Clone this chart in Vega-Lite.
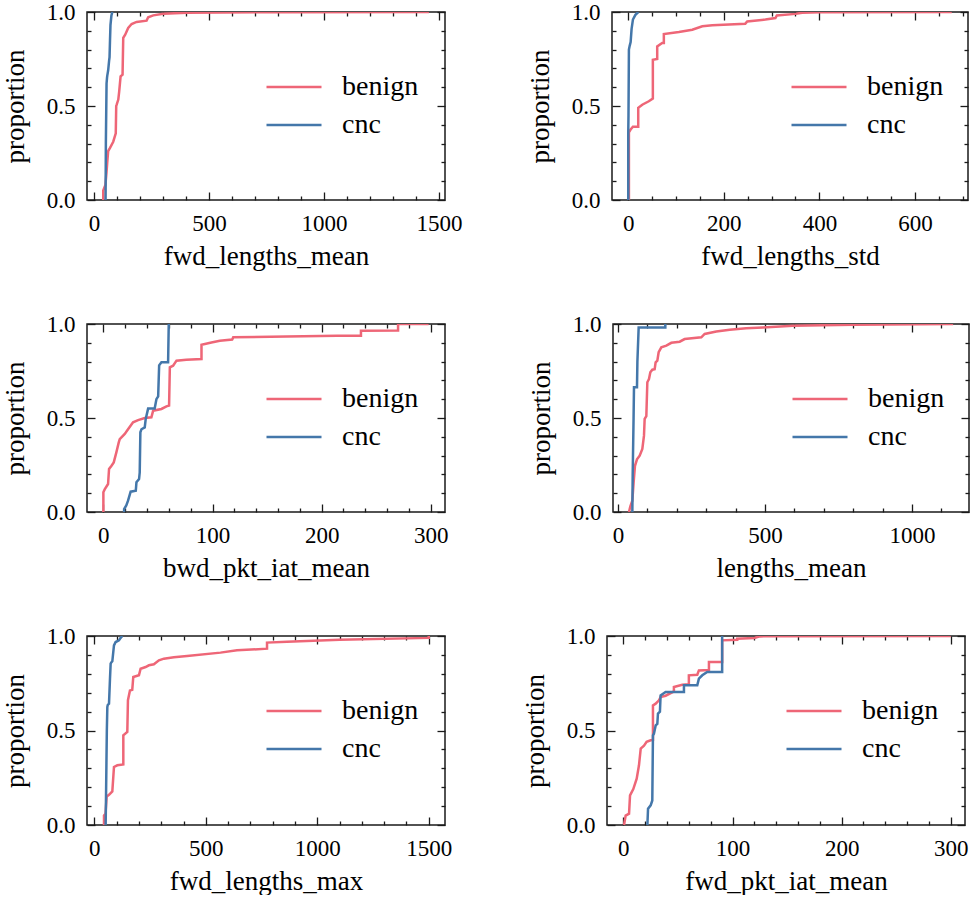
{
"$schema": "https://vega.github.io/schema/vega-lite/v6.json",
"background": "white",
"padding": {"left": 0, "top": 0, "right": 0, "bottom": 0},
"datasets": {"d": [
{"p":"A","c":"benign","i":0,"x":40.6,"y":0},{"p":"A","c":"benign","i":1,"x":40.6,"y":0.05},{"p":"A","c":"benign","i":2,"x":50,"y":0.08},{"p":"A","c":"benign","i":3,"x":55,"y":0.15},{"p":"A","c":"benign","i":4,"x":58,"y":0.2},{"p":"A","c":"benign","i":5,"x":62,"y":0.26},{"p":"A","c":"benign","i":6,"x":70,"y":0.277},{"p":"A","c":"benign","i":7,"x":84,"y":0.31},{"p":"A","c":"benign","i":8,"x":95,"y":0.355},{"p":"A","c":"benign","i":9,"x":97,"y":0.5},{"p":"A","c":"benign","i":10,"x":99,"y":0.507},{"p":"A","c":"benign","i":11,"x":106,"y":0.534},{"p":"A","c":"benign","i":12,"x":110,"y":0.578},{"p":"A","c":"benign","i":13,"x":116,"y":0.658},{"p":"A","c":"benign","i":14,"x":124.6,"y":0.667},{"p":"A","c":"benign","i":15,"x":127.5,"y":0.862},{"p":"A","c":"benign","i":16,"x":136,"y":0.879},{"p":"A","c":"benign","i":17,"x":149,"y":0.915},{"p":"A","c":"benign","i":18,"x":164,"y":0.936},{"p":"A","c":"benign","i":19,"x":185.5,"y":0.947},{"p":"A","c":"benign","i":20,"x":229,"y":0.954},{"p":"A","c":"benign","i":21,"x":236,"y":0.972},{"p":"A","c":"benign","i":22,"x":258,"y":0.982},{"p":"A","c":"benign","i":23,"x":301,"y":0.991},{"p":"A","c":"benign","i":24,"x":403,"y":0.996},{"p":"A","c":"benign","i":25,"x":800,"y":0.999},{"p":"A","c":"benign","i":26,"x":1456,"y":1.0},
{"p":"A","c":"cnc","i":0,"x":50.7,"y":0},{"p":"A","c":"cnc","i":1,"x":52,"y":0.3},{"p":"A","c":"cnc","i":2,"x":55,"y":0.62},{"p":"A","c":"cnc","i":3,"x":57,"y":0.65},{"p":"A","c":"cnc","i":4,"x":58,"y":0.66},{"p":"A","c":"cnc","i":5,"x":62,"y":0.69},{"p":"A","c":"cnc","i":6,"x":66,"y":0.74},{"p":"A","c":"cnc","i":7,"x":68,"y":0.76},{"p":"A","c":"cnc","i":8,"x":70,"y":0.85},{"p":"A","c":"cnc","i":9,"x":72,"y":0.93},{"p":"A","c":"cnc","i":10,"x":76,"y":0.98},{"p":"A","c":"cnc","i":11,"x":80,"y":1.0},
{"p":"B","c":"benign","i":0,"x":1.4,"y":0},{"p":"B","c":"benign","i":1,"x":1.4,"y":0.36},{"p":"B","c":"benign","i":2,"x":4.9,"y":0.375},{"p":"B","c":"benign","i":3,"x":9.8,"y":0.39},{"p":"B","c":"benign","i":4,"x":20.9,"y":0.39},{"p":"B","c":"benign","i":5,"x":20.9,"y":0.49},{"p":"B","c":"benign","i":6,"x":29.3,"y":0.507},{"p":"B","c":"benign","i":7,"x":43,"y":0.525},{"p":"B","c":"benign","i":8,"x":51.5,"y":0.54},{"p":"B","c":"benign","i":9,"x":51.5,"y":0.746},{"p":"B","c":"benign","i":10,"x":60.6,"y":0.75},{"p":"B","c":"benign","i":11,"x":60.6,"y":0.817},{"p":"B","c":"benign","i":12,"x":71,"y":0.835},{"p":"B","c":"benign","i":13,"x":74.5,"y":0.835},{"p":"B","c":"benign","i":14,"x":74.5,"y":0.883},{"p":"B","c":"benign","i":15,"x":106,"y":0.894},{"p":"B","c":"benign","i":16,"x":134,"y":0.906},{"p":"B","c":"benign","i":17,"x":155,"y":0.924},{"p":"B","c":"benign","i":18,"x":176,"y":0.93},{"p":"B","c":"benign","i":19,"x":245,"y":0.938},{"p":"B","c":"benign","i":20,"x":249,"y":0.95},{"p":"B","c":"benign","i":21,"x":287,"y":0.96},{"p":"B","c":"benign","i":22,"x":308,"y":0.968},{"p":"B","c":"benign","i":23,"x":311,"y":0.982},{"p":"B","c":"benign","i":24,"x":350,"y":0.99},{"p":"B","c":"benign","i":25,"x":364,"y":0.996},{"p":"B","c":"benign","i":26,"x":400,"y":0.999},{"p":"B","c":"benign","i":27,"x":677,"y":1.0},
{"p":"B","c":"cnc","i":0,"x":0,"y":0},{"p":"B","c":"cnc","i":1,"x":0,"y":0.35},{"p":"B","c":"cnc","i":2,"x":0.5,"y":0.45},{"p":"B","c":"cnc","i":3,"x":1.4,"y":0.8},{"p":"B","c":"cnc","i":4,"x":3,"y":0.82},{"p":"B","c":"cnc","i":5,"x":5,"y":0.84},{"p":"B","c":"cnc","i":6,"x":7,"y":0.91},{"p":"B","c":"cnc","i":7,"x":9.8,"y":0.96},{"p":"B","c":"cnc","i":8,"x":15,"y":0.985},{"p":"B","c":"cnc","i":9,"x":21,"y":1.0},
{"p":"C","c":"benign","i":0,"x":0,"y":0},{"p":"C","c":"benign","i":1,"x":0,"y":0.105},{"p":"C","c":"benign","i":2,"x":1.2,"y":0.12},{"p":"C","c":"benign","i":3,"x":4.3,"y":0.149},{"p":"C","c":"benign","i":4,"x":5.2,"y":0.229},{"p":"C","c":"benign","i":5,"x":7.3,"y":0.245},{"p":"C","c":"benign","i":6,"x":9.5,"y":0.264},{"p":"C","c":"benign","i":7,"x":11.9,"y":0.317},{"p":"C","c":"benign","i":8,"x":14.1,"y":0.37},{"p":"C","c":"benign","i":9,"x":15,"y":0.388},{"p":"C","c":"benign","i":10,"x":19.6,"y":0.415},{"p":"C","c":"benign","i":11,"x":22.6,"y":0.44},{"p":"C","c":"benign","i":12,"x":27.2,"y":0.477},{"p":"C","c":"benign","i":13,"x":31.8,"y":0.489},{"p":"C","c":"benign","i":14,"x":37.9,"y":0.5},{"p":"C","c":"benign","i":15,"x":44,"y":0.504},{"p":"C","c":"benign","i":16,"x":45.6,"y":0.539},{"p":"C","c":"benign","i":17,"x":53.2,"y":0.548},{"p":"C","c":"benign","i":18,"x":57.8,"y":0.562},{"p":"C","c":"benign","i":19,"x":60.2,"y":0.566},{"p":"C","c":"benign","i":20,"x":60.9,"y":0.77},{"p":"C","c":"benign","i":21,"x":63.9,"y":0.778},{"p":"C","c":"benign","i":22,"x":67,"y":0.805},{"p":"C","c":"benign","i":23,"x":76,"y":0.81},{"p":"C","c":"benign","i":24,"x":89.9,"y":0.814},{"p":"C","c":"benign","i":25,"x":89.9,"y":0.89},{"p":"C","c":"benign","i":26,"x":99,"y":0.902},{"p":"C","c":"benign","i":27,"x":106.7,"y":0.911},{"p":"C","c":"benign","i":28,"x":118,"y":0.917},{"p":"C","c":"benign","i":29,"x":119,"y":0.929},{"p":"C","c":"benign","i":30,"x":168,"y":0.934},{"p":"C","c":"benign","i":31,"x":214,"y":0.937},{"p":"C","c":"benign","i":32,"x":236,"y":0.938},{"p":"C","c":"benign","i":33,"x":236,"y":0.964},{"p":"C","c":"benign","i":34,"x":270,"y":0.965},{"p":"C","c":"benign","i":35,"x":270,"y":1.0},{"p":"C","c":"benign","i":36,"x":298,"y":1.0},
{"p":"C","c":"cnc","i":0,"x":19,"y":0},{"p":"C","c":"cnc","i":1,"x":19,"y":0.015},{"p":"C","c":"cnc","i":2,"x":21,"y":0.035},{"p":"C","c":"cnc","i":3,"x":22.6,"y":0.06},{"p":"C","c":"cnc","i":4,"x":25,"y":0.108},{"p":"C","c":"cnc","i":5,"x":29.7,"y":0.113},{"p":"C","c":"cnc","i":6,"x":30.3,"y":0.158},{"p":"C","c":"cnc","i":7,"x":32.7,"y":0.175},{"p":"C","c":"cnc","i":8,"x":33.3,"y":0.21},{"p":"C","c":"cnc","i":9,"x":33.9,"y":0.424},{"p":"C","c":"cnc","i":10,"x":34.9,"y":0.44},{"p":"C","c":"cnc","i":11,"x":37.9,"y":0.45},{"p":"C","c":"cnc","i":12,"x":38.8,"y":0.495},{"p":"C","c":"cnc","i":13,"x":41,"y":0.55},{"p":"C","c":"cnc","i":14,"x":47,"y":0.55},{"p":"C","c":"cnc","i":15,"x":48.6,"y":0.6},{"p":"C","c":"cnc","i":16,"x":50.2,"y":0.615},{"p":"C","c":"cnc","i":17,"x":51.1,"y":0.78},{"p":"C","c":"cnc","i":18,"x":53.2,"y":0.796},{"p":"C","c":"cnc","i":19,"x":59.3,"y":0.796},{"p":"C","c":"cnc","i":20,"x":59.9,"y":1.0},
{"p":"D","c":"benign","i":0,"x":37.4,"y":0},{"p":"D","c":"benign","i":1,"x":42,"y":0.03},{"p":"D","c":"benign","i":2,"x":48.8,"y":0.06},{"p":"D","c":"benign","i":3,"x":53.3,"y":0.16},{"p":"D","c":"benign","i":4,"x":57.8,"y":0.246},{"p":"D","c":"benign","i":5,"x":64.6,"y":0.28},{"p":"D","c":"benign","i":6,"x":73.7,"y":0.3},{"p":"D","c":"benign","i":7,"x":82.8,"y":0.335},{"p":"D","c":"benign","i":8,"x":88.4,"y":0.406},{"p":"D","c":"benign","i":9,"x":90.7,"y":0.495},{"p":"D","c":"benign","i":10,"x":96.4,"y":0.51},{"p":"D","c":"benign","i":11,"x":99.8,"y":0.69},{"p":"D","c":"benign","i":12,"x":105.4,"y":0.707},{"p":"D","c":"benign","i":13,"x":110,"y":0.743},{"p":"D","c":"benign","i":14,"x":116.8,"y":0.757},{"p":"D","c":"benign","i":15,"x":124.7,"y":0.76},{"p":"D","c":"benign","i":16,"x":128,"y":0.796},{"p":"D","c":"benign","i":17,"x":133.8,"y":0.805},{"p":"D","c":"benign","i":18,"x":138.3,"y":0.85},{"p":"D","c":"benign","i":19,"x":147.4,"y":0.876},{"p":"D","c":"benign","i":20,"x":164.4,"y":0.885},{"p":"D","c":"benign","i":21,"x":181.4,"y":0.9},{"p":"D","c":"benign","i":22,"x":209.8,"y":0.906},{"p":"D","c":"benign","i":23,"x":226.8,"y":0.92},{"p":"D","c":"benign","i":24,"x":283.4,"y":0.929},{"p":"D","c":"benign","i":25,"x":294.8,"y":0.947},{"p":"D","c":"benign","i":26,"x":334.5,"y":0.96},{"p":"D","c":"benign","i":27,"x":380,"y":0.97},{"p":"D","c":"benign","i":28,"x":436,"y":0.977},{"p":"D","c":"benign","i":29,"x":493,"y":0.982},{"p":"D","c":"benign","i":30,"x":595,"y":0.991},{"p":"D","c":"benign","i":31,"x":800,"y":0.996},{"p":"D","c":"benign","i":32,"x":1140,"y":1.0},
{"p":"D","c":"cnc","i":0,"x":48.8,"y":0},{"p":"D","c":"cnc","i":1,"x":50,"y":0.2},{"p":"D","c":"cnc","i":2,"x":53,"y":0.5},{"p":"D","c":"cnc","i":3,"x":54.4,"y":0.663},{"p":"D","c":"cnc","i":4,"x":64.6,"y":0.663},{"p":"D","c":"cnc","i":5,"x":66,"y":0.8},{"p":"D","c":"cnc","i":6,"x":70.3,"y":0.982},{"p":"D","c":"cnc","i":7,"x":161,"y":0.982},{"p":"D","c":"cnc","i":8,"x":161,"y":1.0},
{"p":"E","c":"benign","i":0,"x":43.3,"y":0},{"p":"E","c":"benign","i":1,"x":43.3,"y":0.05},{"p":"E","c":"benign","i":2,"x":50,"y":0.06},{"p":"E","c":"benign","i":3,"x":55.2,"y":0.15},{"p":"E","c":"benign","i":4,"x":65.7,"y":0.16},{"p":"E","c":"benign","i":5,"x":80.6,"y":0.178},{"p":"E","c":"benign","i":6,"x":88,"y":0.307},{"p":"E","c":"benign","i":7,"x":103,"y":0.316},{"p":"E","c":"benign","i":8,"x":129.9,"y":0.32},{"p":"E","c":"benign","i":9,"x":129.9,"y":0.474},{"p":"E","c":"benign","i":10,"x":147.8,"y":0.492},{"p":"E","c":"benign","i":11,"x":150.7,"y":0.66},{"p":"E","c":"benign","i":12,"x":159.7,"y":0.712},{"p":"E","c":"benign","i":13,"x":170,"y":0.715},{"p":"E","c":"benign","i":14,"x":174.6,"y":0.783},{"p":"E","c":"benign","i":15,"x":200,"y":0.792},{"p":"E","c":"benign","i":16,"x":207.5,"y":0.827},{"p":"E","c":"benign","i":17,"x":229.9,"y":0.836},{"p":"E","c":"benign","i":18,"x":244.8,"y":0.845},{"p":"E","c":"benign","i":19,"x":267,"y":0.85},{"p":"E","c":"benign","i":20,"x":289.6,"y":0.871},{"p":"E","c":"benign","i":21,"x":312,"y":0.88},{"p":"E","c":"benign","i":22,"x":356.7,"y":0.887},{"p":"E","c":"benign","i":23,"x":416,"y":0.894},{"p":"E","c":"benign","i":24,"x":565.7,"y":0.912},{"p":"E","c":"benign","i":25,"x":640,"y":0.924},{"p":"E","c":"benign","i":26,"x":774.6,"y":0.933},{"p":"E","c":"benign","i":27,"x":774.6,"y":0.965},{"p":"E","c":"benign","i":28,"x":864,"y":0.97},{"p":"E","c":"benign","i":29,"x":1100,"y":0.98},{"p":"E","c":"benign","i":30,"x":1500,"y":0.99},{"p":"E","c":"benign","i":31,"x":1500,"y":1.0},
{"p":"E","c":"cnc","i":0,"x":50.7,"y":0},{"p":"E","c":"cnc","i":1,"x":53.7,"y":0.28},{"p":"E","c":"cnc","i":2,"x":56,"y":0.5},{"p":"E","c":"cnc","i":3,"x":58.2,"y":0.624},{"p":"E","c":"cnc","i":4,"x":60,"y":0.635},{"p":"E","c":"cnc","i":5,"x":65.7,"y":0.642},{"p":"E","c":"cnc","i":6,"x":70.1,"y":0.774},{"p":"E","c":"cnc","i":7,"x":73.1,"y":0.854},{"p":"E","c":"cnc","i":8,"x":76,"y":0.86},{"p":"E","c":"cnc","i":9,"x":80.6,"y":0.866},{"p":"E","c":"cnc","i":10,"x":88,"y":0.95},{"p":"E","c":"cnc","i":11,"x":95.5,"y":0.968},{"p":"E","c":"cnc","i":12,"x":110.4,"y":0.977},{"p":"E","c":"cnc","i":13,"x":118,"y":0.99},{"p":"E","c":"cnc","i":14,"x":125.4,"y":1.0},
{"p":"F","c":"benign","i":0,"x":0.6,"y":0},{"p":"F","c":"benign","i":1,"x":2.1,"y":0.05},{"p":"F","c":"benign","i":2,"x":5.2,"y":0.06},{"p":"F","c":"benign","i":3,"x":6.1,"y":0.157},{"p":"F","c":"benign","i":4,"x":9.1,"y":0.19},{"p":"F","c":"benign","i":5,"x":12.2,"y":0.245},{"p":"F","c":"benign","i":6,"x":14.3,"y":0.316},{"p":"F","c":"benign","i":7,"x":15.9,"y":0.404},{"p":"F","c":"benign","i":8,"x":18.9,"y":0.42},{"p":"F","c":"benign","i":9,"x":21.3,"y":0.44},{"p":"F","c":"benign","i":10,"x":25,"y":0.448},{"p":"F","c":"benign","i":11,"x":27.1,"y":0.45},{"p":"F","c":"benign","i":12,"x":27.1,"y":0.633},{"p":"F","c":"benign","i":13,"x":29.6,"y":0.642},{"p":"F","c":"benign","i":14,"x":32.6,"y":0.66},{"p":"F","c":"benign","i":15,"x":34.1,"y":0.677},{"p":"F","c":"benign","i":16,"x":38.7,"y":0.684},{"p":"F","c":"benign","i":17,"x":46.3,"y":0.707},{"p":"F","c":"benign","i":18,"x":46.3,"y":0.73},{"p":"F","c":"benign","i":19,"x":54,"y":0.742},{"p":"F","c":"benign","i":20,"x":60,"y":0.745},{"p":"F","c":"benign","i":21,"x":60,"y":0.792},{"p":"F","c":"benign","i":22,"x":67.7,"y":0.795},{"p":"F","c":"benign","i":23,"x":69.2,"y":0.818},{"p":"F","c":"benign","i":24,"x":78.4,"y":0.82},{"p":"F","c":"benign","i":25,"x":78.4,"y":0.862},{"p":"F","c":"benign","i":26,"x":90.5,"y":0.862},{"p":"F","c":"benign","i":27,"x":90.5,"y":0.977},{"p":"F","c":"benign","i":28,"x":104.3,"y":0.98},{"p":"F","c":"benign","i":29,"x":104.3,"y":0.986},{"p":"F","c":"benign","i":30,"x":120,"y":0.99},{"p":"F","c":"benign","i":31,"x":125,"y":0.998},{"p":"F","c":"benign","i":32,"x":300,"y":1.0},
{"p":"F","c":"cnc","i":0,"x":22,"y":0},{"p":"F","c":"cnc","i":1,"x":22.6,"y":0.086},{"p":"F","c":"cnc","i":2,"x":25,"y":0.104},{"p":"F","c":"cnc","i":3,"x":26.5,"y":0.13},{"p":"F","c":"cnc","i":4,"x":27.1,"y":0.474},{"p":"F","c":"cnc","i":5,"x":28,"y":0.483},{"p":"F","c":"cnc","i":6,"x":29.6,"y":0.527},{"p":"F","c":"cnc","i":7,"x":31.1,"y":0.535},{"p":"F","c":"cnc","i":8,"x":31.7,"y":0.59},{"p":"F","c":"cnc","i":9,"x":33.5,"y":0.6},{"p":"F","c":"cnc","i":10,"x":34.1,"y":0.686},{"p":"F","c":"cnc","i":11,"x":38.7,"y":0.704},{"p":"F","c":"cnc","i":12,"x":55.5,"y":0.704},{"p":"F","c":"cnc","i":13,"x":55.5,"y":0.739},{"p":"F","c":"cnc","i":14,"x":67.7,"y":0.739},{"p":"F","c":"cnc","i":15,"x":69.2,"y":0.774},{"p":"F","c":"cnc","i":16,"x":72.3,"y":0.792},{"p":"F","c":"cnc","i":17,"x":76.8,"y":0.81},{"p":"F","c":"cnc","i":18,"x":90.5,"y":0.81},{"p":"F","c":"cnc","i":19,"x":90.5,"y":1.0}
]},
"data": {"name": "d"},
"spacing": 42,
"resolve": {"scale": {"color": "independent"}, "legend": {"color": "independent"}},
"vconcat": [
{"hconcat": [
{"width": 358, "height": 188, "transform": [{"filter": {"field": "p", "equal": "A"}}],
 "layer": [
  {"mark": {"type": "line", "clip": true}, "encoding": {
    "x": {"field": "x", "type": "quantitative", "scale": {"domain": [-30, 1526], "nice": false, "zero": false}, "axis": {"orient": "bottom", "values": [0, 500, 1000, 1500], "format": "d", "tickSize": -8, "labelPadding": 20, "title": "fwd_lengths_mean"}},
    "y": {"field": "y", "type": "quantitative", "scale": {"domain": [0, 1], "nice": false, "zero": false}, "axis": {"orient": "left", "values": [0, 0.5, 1], "format": ".1f", "tickSize": -8, "labelPadding": 20, "title": "proportion"}},
    "color": {"field": "c", "type": "nominal", "scale": {"domain": ["benign", "cnc"], "range": ["#EE6677", "#4477AA"]}, "legend": {"orient": "none", "legendX": 178, "legendY": 59, "title": null}},
    "order": {"field": "i", "type": "quantitative"}}},
  {"mark": {"type": "line", "opacity": 0}, "encoding": {
    "x": {"field": "x", "type": "quantitative", "scale": {"domain": [-30, 1526], "nice": false, "zero": false}, "axis": {"orient": "bottom", "values": [100, 200, 300, 400, 600, 700, 800, 900, 1100, 1200, 1300, 1400], "tickSize": -4, "labels": false, "title": null}},
    "y": {"field": "y", "type": "quantitative", "scale": {"domain": [0, 1], "nice": false, "zero": false}, "axis": {"orient": "left", "values": [0.1, 0.2, 0.3, 0.4, 0.6, 0.7, 0.8, 0.9], "tickSize": -4, "labels": false, "title": null}}}},
  {"mark": {"type": "line", "opacity": 0}, "encoding": {
    "x": {"field": "x", "type": "quantitative", "scale": {"domain": [-30, 1526], "nice": false, "zero": false}, "axis": {"orient": "top", "values": [0, 500, 1000, 1500], "tickSize": -8, "labels": false, "title": null}},
    "y": {"field": "y", "type": "quantitative", "scale": {"domain": [0, 1], "nice": false, "zero": false}, "axis": {"orient": "right", "values": [0, 0.5, 1], "tickSize": -8, "labels": false, "title": null}}}},
  {"mark": {"type": "line", "opacity": 0}, "encoding": {
    "x": {"field": "x", "type": "quantitative", "scale": {"domain": [-30, 1526], "nice": false, "zero": false}, "axis": {"orient": "top", "values": [100, 200, 300, 400, 600, 700, 800, 900, 1100, 1200, 1300, 1400], "tickSize": -4, "labels": false, "title": null}},
    "y": {"field": "y", "type": "quantitative", "scale": {"domain": [0, 1], "nice": false, "zero": false}, "axis": {"orient": "right", "values": [0.1, 0.2, 0.3, 0.4, 0.6, 0.7, 0.8, 0.9], "tickSize": -4, "labels": false, "title": null}}}}
 ],
 "resolve": {"axis": {"x": "independent", "y": "independent"}}},
{"width": 356, "height": 188, "transform": [{"filter": {"field": "p", "equal": "B"}}],
 "layer": [
  {"mark": {"type": "line", "clip": true}, "encoding": {
    "x": {"field": "x", "type": "quantitative", "scale": {"domain": [-34, 711], "nice": false, "zero": false}, "axis": {"orient": "bottom", "values": [0, 200, 400, 600], "format": "d", "tickSize": -8, "labelPadding": 20, "title": "fwd_lengths_std"}},
    "y": {"field": "y", "type": "quantitative", "scale": {"domain": [0, 1], "nice": false, "zero": false}, "axis": {"orient": "left", "values": [0, 0.5, 1], "format": ".1f", "tickSize": -8, "labelPadding": 20, "title": "proportion"}},
    "color": {"field": "c", "type": "nominal", "scale": {"domain": ["benign", "cnc"], "range": ["#EE6677", "#4477AA"]}, "legend": {"orient": "none", "legendX": 178, "legendY": 59, "title": null}},
    "order": {"field": "i", "type": "quantitative"}}},
  {"mark": {"type": "line", "opacity": 0}, "encoding": {
    "x": {"field": "x", "type": "quantitative", "scale": {"domain": [-34, 711], "nice": false, "zero": false}, "axis": {"orient": "bottom", "values": [50, 100, 150, 250, 300, 350, 450, 500, 550, 650, 700], "tickSize": -4, "labels": false, "title": null}},
    "y": {"field": "y", "type": "quantitative", "scale": {"domain": [0, 1], "nice": false, "zero": false}, "axis": {"orient": "left", "values": [0.1, 0.2, 0.3, 0.4, 0.6, 0.7, 0.8, 0.9], "tickSize": -4, "labels": false, "title": null}}}},
  {"mark": {"type": "line", "opacity": 0}, "encoding": {
    "x": {"field": "x", "type": "quantitative", "scale": {"domain": [-34, 711], "nice": false, "zero": false}, "axis": {"orient": "top", "values": [0, 200, 400, 600], "tickSize": -8, "labels": false, "title": null}},
    "y": {"field": "y", "type": "quantitative", "scale": {"domain": [0, 1], "nice": false, "zero": false}, "axis": {"orient": "right", "values": [0, 0.5, 1], "tickSize": -8, "labels": false, "title": null}}}},
  {"mark": {"type": "line", "opacity": 0}, "encoding": {
    "x": {"field": "x", "type": "quantitative", "scale": {"domain": [-34, 711], "nice": false, "zero": false}, "axis": {"orient": "top", "values": [50, 100, 150, 250, 300, 350, 450, 500, 550, 650, 700], "tickSize": -4, "labels": false, "title": null}},
    "y": {"field": "y", "type": "quantitative", "scale": {"domain": [0, 1], "nice": false, "zero": false}, "axis": {"orient": "right", "values": [0.1, 0.2, 0.3, 0.4, 0.6, 0.7, 0.8, 0.9], "tickSize": -4, "labels": false, "title": null}}}}
 ],
 "resolve": {"axis": {"x": "independent", "y": "independent"}}}
], "spacing": 62, "resolve": {"scale": {"color": "independent"}, "legend": {"color": "independent"}}},
{"hconcat": [
{"width": 358, "height": 188, "transform": [{"filter": {"field": "p", "equal": "C"}}],
 "layer": [
  {"mark": {"type": "line", "clip": true}, "encoding": {
    "x": {"field": "x", "type": "quantitative", "scale": {"domain": [-15, 313], "nice": false, "zero": false}, "axis": {"orient": "bottom", "values": [0, 100, 200, 300], "format": "d", "tickSize": -8, "labelPadding": 20, "title": "bwd_pkt_iat_mean"}},
    "y": {"field": "y", "type": "quantitative", "scale": {"domain": [0, 1], "nice": false, "zero": false}, "axis": {"orient": "left", "values": [0, 0.5, 1], "format": ".1f", "tickSize": -8, "labelPadding": 20, "title": "proportion"}},
    "color": {"field": "c", "type": "nominal", "scale": {"domain": ["benign", "cnc"], "range": ["#EE6677", "#4477AA"]}, "legend": {"orient": "none", "legendX": 178, "legendY": 59, "title": null}},
    "order": {"field": "i", "type": "quantitative"}}},
  {"mark": {"type": "line", "opacity": 0}, "encoding": {
    "x": {"field": "x", "type": "quantitative", "scale": {"domain": [-15, 313], "nice": false, "zero": false}, "axis": {"orient": "bottom", "values": [20, 40, 60, 80, 120, 140, 160, 180, 220, 240, 260, 280], "tickSize": -4, "labels": false, "title": null}},
    "y": {"field": "y", "type": "quantitative", "scale": {"domain": [0, 1], "nice": false, "zero": false}, "axis": {"orient": "left", "values": [0.1, 0.2, 0.3, 0.4, 0.6, 0.7, 0.8, 0.9], "tickSize": -4, "labels": false, "title": null}}}},
  {"mark": {"type": "line", "opacity": 0}, "encoding": {
    "x": {"field": "x", "type": "quantitative", "scale": {"domain": [-15, 313], "nice": false, "zero": false}, "axis": {"orient": "top", "values": [0, 100, 200, 300], "tickSize": -8, "labels": false, "title": null}},
    "y": {"field": "y", "type": "quantitative", "scale": {"domain": [0, 1], "nice": false, "zero": false}, "axis": {"orient": "right", "values": [0, 0.5, 1], "tickSize": -8, "labels": false, "title": null}}}},
  {"mark": {"type": "line", "opacity": 0}, "encoding": {
    "x": {"field": "x", "type": "quantitative", "scale": {"domain": [-15, 313], "nice": false, "zero": false}, "axis": {"orient": "top", "values": [20, 40, 60, 80, 120, 140, 160, 180, 220, 240, 260, 280], "tickSize": -4, "labels": false, "title": null}},
    "y": {"field": "y", "type": "quantitative", "scale": {"domain": [0, 1], "nice": false, "zero": false}, "axis": {"orient": "right", "values": [0.1, 0.2, 0.3, 0.4, 0.6, 0.7, 0.8, 0.9], "tickSize": -4, "labels": false, "title": null}}}}
 ],
 "resolve": {"axis": {"x": "independent", "y": "independent"}}},
{"width": 356, "height": 188, "transform": [{"filter": {"field": "p", "equal": "D"}}],
 "layer": [
  {"mark": {"type": "line", "clip": true}, "encoding": {
    "x": {"field": "x", "type": "quantitative", "scale": {"domain": [-17, 1194], "nice": false, "zero": false}, "axis": {"orient": "bottom", "values": [0, 500, 1000], "format": "d", "tickSize": -8, "labelPadding": 20, "title": "lengths_mean"}},
    "y": {"field": "y", "type": "quantitative", "scale": {"domain": [0, 1], "nice": false, "zero": false}, "axis": {"orient": "left", "values": [0, 0.5, 1], "format": ".1f", "tickSize": -8, "labelPadding": 20, "title": "proportion"}},
    "color": {"field": "c", "type": "nominal", "scale": {"domain": ["benign", "cnc"], "range": ["#EE6677", "#4477AA"]}, "legend": {"orient": "none", "legendX": 178, "legendY": 59, "title": null}},
    "order": {"field": "i", "type": "quantitative"}}},
  {"mark": {"type": "line", "opacity": 0}, "encoding": {
    "x": {"field": "x", "type": "quantitative", "scale": {"domain": [-17, 1194], "nice": false, "zero": false}, "axis": {"orient": "bottom", "values": [100, 200, 300, 400, 600, 700, 800, 900, 1100], "tickSize": -4, "labels": false, "title": null}},
    "y": {"field": "y", "type": "quantitative", "scale": {"domain": [0, 1], "nice": false, "zero": false}, "axis": {"orient": "left", "values": [0.1, 0.2, 0.3, 0.4, 0.6, 0.7, 0.8, 0.9], "tickSize": -4, "labels": false, "title": null}}}},
  {"mark": {"type": "line", "opacity": 0}, "encoding": {
    "x": {"field": "x", "type": "quantitative", "scale": {"domain": [-17, 1194], "nice": false, "zero": false}, "axis": {"orient": "top", "values": [0, 500, 1000], "tickSize": -8, "labels": false, "title": null}},
    "y": {"field": "y", "type": "quantitative", "scale": {"domain": [0, 1], "nice": false, "zero": false}, "axis": {"orient": "right", "values": [0, 0.5, 1], "tickSize": -8, "labels": false, "title": null}}}},
  {"mark": {"type": "line", "opacity": 0}, "encoding": {
    "x": {"field": "x", "type": "quantitative", "scale": {"domain": [-17, 1194], "nice": false, "zero": false}, "axis": {"orient": "top", "values": [100, 200, 300, 400, 600, 700, 800, 900, 1100], "tickSize": -4, "labels": false, "title": null}},
    "y": {"field": "y", "type": "quantitative", "scale": {"domain": [0, 1], "nice": false, "zero": false}, "axis": {"orient": "right", "values": [0.1, 0.2, 0.3, 0.4, 0.6, 0.7, 0.8, 0.9], "tickSize": -4, "labels": false, "title": null}}}}
 ],
 "resolve": {"axis": {"x": "independent", "y": "independent"}}}
], "spacing": 77, "resolve": {"scale": {"color": "independent"}, "legend": {"color": "independent"}}},
{"hconcat": [
{"width": 358, "height": 189, "transform": [{"filter": {"field": "p", "equal": "E"}}],
 "layer": [
  {"mark": {"type": "line", "clip": true}, "encoding": {
    "x": {"field": "x", "type": "quantitative", "scale": {"domain": [-33, 1573], "nice": false, "zero": false}, "axis": {"orient": "bottom", "values": [0, 500, 1000, 1500], "format": "d", "tickSize": -8, "labelPadding": 20, "title": "fwd_lengths_max"}},
    "y": {"field": "y", "type": "quantitative", "scale": {"domain": [0, 1], "nice": false, "zero": false}, "axis": {"orient": "left", "values": [0, 0.5, 1], "format": ".1f", "tickSize": -8, "labelPadding": 20, "title": "proportion"}},
    "color": {"field": "c", "type": "nominal", "scale": {"domain": ["benign", "cnc"], "range": ["#EE6677", "#4477AA"]}, "legend": {"orient": "none", "legendX": 178, "legendY": 59, "title": null}},
    "order": {"field": "i", "type": "quantitative"}}},
  {"mark": {"type": "line", "opacity": 0}, "encoding": {
    "x": {"field": "x", "type": "quantitative", "scale": {"domain": [-33, 1573], "nice": false, "zero": false}, "axis": {"orient": "bottom", "values": [100, 200, 300, 400, 600, 700, 800, 900, 1100, 1200, 1300, 1400], "tickSize": -4, "labels": false, "title": null}},
    "y": {"field": "y", "type": "quantitative", "scale": {"domain": [0, 1], "nice": false, "zero": false}, "axis": {"orient": "left", "values": [0.1, 0.2, 0.3, 0.4, 0.6, 0.7, 0.8, 0.9], "tickSize": -4, "labels": false, "title": null}}}},
  {"mark": {"type": "line", "opacity": 0}, "encoding": {
    "x": {"field": "x", "type": "quantitative", "scale": {"domain": [-33, 1573], "nice": false, "zero": false}, "axis": {"orient": "top", "values": [0, 500, 1000, 1500], "tickSize": -8, "labels": false, "title": null}},
    "y": {"field": "y", "type": "quantitative", "scale": {"domain": [0, 1], "nice": false, "zero": false}, "axis": {"orient": "right", "values": [0, 0.5, 1], "tickSize": -8, "labels": false, "title": null}}}},
  {"mark": {"type": "line", "opacity": 0}, "encoding": {
    "x": {"field": "x", "type": "quantitative", "scale": {"domain": [-33, 1573], "nice": false, "zero": false}, "axis": {"orient": "top", "values": [100, 200, 300, 400, 600, 700, 800, 900, 1100, 1200, 1300, 1400], "tickSize": -4, "labels": false, "title": null}},
    "y": {"field": "y", "type": "quantitative", "scale": {"domain": [0, 1], "nice": false, "zero": false}, "axis": {"orient": "right", "values": [0.1, 0.2, 0.3, 0.4, 0.6, 0.7, 0.8, 0.9], "tickSize": -4, "labels": false, "title": null}}}}
 ],
 "resolve": {"axis": {"x": "independent", "y": "independent"}}},
{"width": 358, "height": 189, "transform": [{"filter": {"field": "p", "equal": "F"}}],
 "layer": [
  {"mark": {"type": "line", "clip": true}, "encoding": {
    "x": {"field": "x", "type": "quantitative", "scale": {"domain": [-15, 313], "nice": false, "zero": false}, "axis": {"orient": "bottom", "values": [0, 100, 200, 300], "format": "d", "tickSize": -8, "labelPadding": 20, "title": "fwd_pkt_iat_mean"}},
    "y": {"field": "y", "type": "quantitative", "scale": {"domain": [0, 1], "nice": false, "zero": false}, "axis": {"orient": "left", "values": [0, 0.5, 1], "format": ".1f", "tickSize": -8, "labelPadding": 20, "title": "proportion"}},
    "color": {"field": "c", "type": "nominal", "scale": {"domain": ["benign", "cnc"], "range": ["#EE6677", "#4477AA"]}, "legend": {"orient": "none", "legendX": 178, "legendY": 59, "title": null}},
    "order": {"field": "i", "type": "quantitative"}}},
  {"mark": {"type": "line", "opacity": 0}, "encoding": {
    "x": {"field": "x", "type": "quantitative", "scale": {"domain": [-15, 313], "nice": false, "zero": false}, "axis": {"orient": "bottom", "values": [20, 40, 60, 80, 120, 140, 160, 180, 220, 240, 260, 280], "tickSize": -4, "labels": false, "title": null}},
    "y": {"field": "y", "type": "quantitative", "scale": {"domain": [0, 1], "nice": false, "zero": false}, "axis": {"orient": "left", "values": [0.1, 0.2, 0.3, 0.4, 0.6, 0.7, 0.8, 0.9], "tickSize": -4, "labels": false, "title": null}}}},
  {"mark": {"type": "line", "opacity": 0}, "encoding": {
    "x": {"field": "x", "type": "quantitative", "scale": {"domain": [-15, 313], "nice": false, "zero": false}, "axis": {"orient": "top", "values": [0, 100, 200, 300], "tickSize": -8, "labels": false, "title": null}},
    "y": {"field": "y", "type": "quantitative", "scale": {"domain": [0, 1], "nice": false, "zero": false}, "axis": {"orient": "right", "values": [0, 0.5, 1], "tickSize": -8, "labels": false, "title": null}}}},
  {"mark": {"type": "line", "opacity": 0}, "encoding": {
    "x": {"field": "x", "type": "quantitative", "scale": {"domain": [-15, 313], "nice": false, "zero": false}, "axis": {"orient": "top", "values": [20, 40, 60, 80, 120, 140, 160, 180, 220, 240, 260, 280], "tickSize": -4, "labels": false, "title": null}},
    "y": {"field": "y", "type": "quantitative", "scale": {"domain": [0, 1], "nice": false, "zero": false}, "axis": {"orient": "right", "values": [0.1, 0.2, 0.3, 0.4, 0.6, 0.7, 0.8, 0.9], "tickSize": -4, "labels": false, "title": null}}}}
 ],
 "resolve": {"axis": {"x": "independent", "y": "independent"}}}
], "spacing": 67, "resolve": {"scale": {"color": "independent"}, "legend": {"color": "independent"}}}
],
"config": {
  "view": {"stroke": "#1a1a1a", "strokeWidth": 1.5},
  "axis": {"domain": false, "grid": false, "labelFont": "Liberation Serif", "labelFontSize": 23, "labelColor": "#000000", "titleFont": "Liberation Serif", "titleFontSize": 27, "titleFontWeight": "normal", "titleColor": "#000000", "tickColor": "#1a1a1a", "tickWidth": 1.3, "labelFlush": false, "labelOverlap": false, "titlePadding": 8},
  "axisY": {"titlePadding": 17},
  "legend": {"labelFont": "Liberation Serif", "labelFontSize": 28, "labelColor": "#000000", "symbolType": "stroke", "symbolSize": 3025, "symbolStrokeWidth": 2.5, "labelOffset": 19, "rowPadding": 6, "clipHeight": 32, "padding": 0},
  "line": {"strokeWidth": 2.5}
}
}
